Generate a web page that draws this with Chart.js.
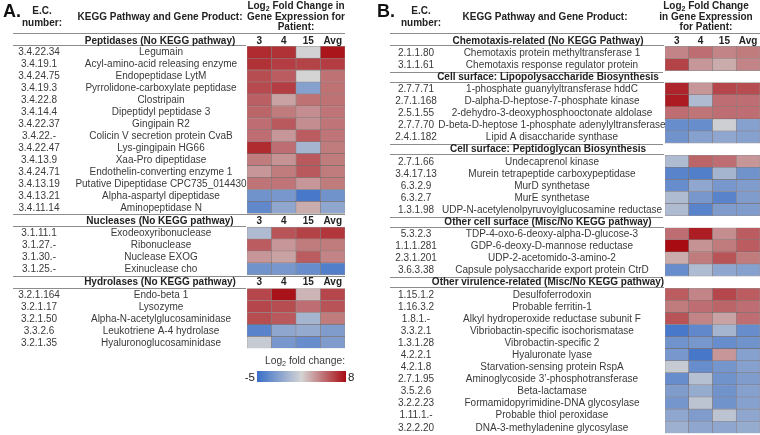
<!DOCTYPE html>
<html>
<head>
<meta charset="utf-8">
<script src="https://cdn.jsdelivr.net/npm/chart.js@4.4.1/dist/chart.umd.min.js"></script>
<style>
  html, body { margin: 0; padding: 0; background: #fff; }
  #wrap { position: relative; width: 760px; height: 435px; overflow: hidden; }
  canvas { position: absolute; top: 0; }
  #panelA { left: 0; }
  #panelB { left: 360px; }
</style>
</head>
<body>
<div id="wrap">
  <canvas id="panelA" width="360" height="435"></canvas>
  <canvas id="panelB" width="400" height="435"></canvas>
</div>
<script>
// columns of the heat map
const patients = ['3', '4', '15', 'Avg'];

// colour scale of the legend
const scaleMin = -5;
const scaleMid = 1.5;
const scaleMax = 8;

// panel A
const sectionTitlesA = [
    'Peptidases (No KEGG pathway)',
    'Nucleases (No KEGG pathway)',
    'Hydrolases (No KEGG pathway)'
];
const sectionSizesA = [14, 4, 5];
const ecNumbersA = [
    '3.4.22.34', '3.4.19.1', '3.4.24.75', '3.4.19.3', '3.4.22.8', '3.4.14.4', '3.4.22.37',
    '3.4.22.-', '3.4.22.47', '3.4.13.9', '3.4.24.71', '3.4.13.19', '3.4.13.21', '3.4.11.14',
    '3.1.11.1', '3.1.27.-', '3.1.30.-', '3.1.25.-',
    '3.2.1.164', '3.2.1.17', '3.2.1.50', '3.3.2.6', '3.2.1.35'
];
const geneProductsA = [
    'Legumain', 'Acyl-amino-acid releasing enzyme', 'Endopeptidase LytM',
    'Pyrrolidone-carboxylate peptidase', 'Clostripain', 'Dipeptidyl peptidase 3', 'Gingipain R2',
    'Colicin V secretion protein CvaB', 'Lys-gingipain HG66', 'Xaa-Pro dipeptidase',
    'Endothelin-converting enzyme 1', 'Putative Dipeptidase CPC735_014430',
    'Alpha-aspartyl dipeptidase', 'Aminopeptidase N',
    'Exodeoxyribonuclease', 'Ribonuclease', 'Nuclease EXOG', 'Exinuclease cho',
    'Endo-beta 1', 'Lysozyme', 'Alpha-N-acetylglucosaminidase', 'Leukotriene A-4 hydrolase',
    'Hyaluronoglucosaminidase'
];
// log2 fold change for patients 3, 4, 15 and Avg
const foldChangeA = [
    [7.0, 6.8, 1.4, 7.7],
    [6.8, 6.4, 6.2, 6.4],
    [5.9, 5.4, 1.5, 4.7],
    [6.0, 6.4, -1.8, 4.7],
    [5.3, 3.1, 4.7, 4.7],
    [5.1, 4.4, 3.8, 4.6],
    [4.8, 5.5, 3.8, 4.6],
    [4.8, 3.5, 5.4, 4.6],
    [7.0, 4.8, -0.5, 4.4],
    [4.4, 3.6, 5.5, 4.4],
    [3.5, 4.4, 5.5, 4.4],
    [4.6, 4.6, 3.5, 4.4],
    [-2.7, -2.4, -4.4, -2.7],
    [-3.4, -1.4, 2.8, -1.4],
    [-0.1, 5.7, 6.2, 6.6],
    [5.4, 3.5, 4.4, 4.4],
    [3.5, 3.1, 5.4, 4.1],
    [-2.7, -2.4, -3.1, -4.0],
    [6.1, 7.8, 2.5, 6.1],
    [6.1, 5.9, 4.8, 5.7],
    [5.9, 5.5, -0.5, 4.4],
    [-3.7, -1.4, -1.2, -2.1],
    [0.9, -2.4, -3.1, -2.1]
];

// panel B
const sectionTitlesB = [
    'Chemotaxis-related (No KEGG Pathway)',
    'Cell surface: Lipopolysaccharide Biosynthesis',
    'Cell surface: Peptidoglycan Biosynthesis',
    'Other cell surface (Misc/No KEGG pathway)',
    'Other virulence-related (Misc/No KEGG pathway)'
];
const sectionSizesB = [2, 5, 5, 4, 12];
const ecNumbersB = [
    '2.1.1.80', '3.1.1.61',
    '2.7.7.71', '2.7.1.168', '2.5.1.55', '2.7.7.70', '2.4.1.182',
    '2.7.1.66', '3.4.17.13', '6.3.2.9', '6.3.2.7', '1.3.1.98',
    '5.3.2.3', '1.1.1.281', '2.3.1.201', '3.6.3.38',
    '1.15.1.2', '1.16.3.2', '1.8.1.-', '3.3.2.1', '1.3.1.28', '4.2.2.1', '4.2.1.8',
    '2.7.1.95', '3.5.2.6', '3.2.2.23', '1.11.1.-', '3.2.2.20'
];
const geneProductsB = [
    'Chemotaxis protein methyltransferase 1', 'Chemotaxis response regulator protein',
    '1-phosphate guanylyltransferase hddC', 'D-alpha-D-heptose-7-phosphate kinase',
    '2-dehydro-3-deoxyphosphooctonate aldolase', 'D-beta-D-heptose 1-phosphate adenylyltransferase',
    'Lipid A disaccharide synthase',
    'Undecaprenol kinase', 'Murein tetrapeptide carboxypeptidase', 'MurD synthetase',
    'MurE synthetase', 'UDP-N-acetylenolpyruvoylglucosamine reductase',
    'TDP-4-oxo-6-deoxy-alpha-D-glucose-3', 'GDP-6-deoxy-D-mannose reductase',
    'UDP-2-acetomido-3-amino-2', 'Capsule polysaccharide export protein CtrD',
    'Desulfoferrodoxin', 'Probable ferritin-1', 'Alkyl hydroperoxide reductase subunit F',
    'Vibriobactin-specific isochorismatase', 'Vibrobactin-specific 2', 'Hyaluronate lyase',
    'Starvation-sensing protein RspA', 'Aminoglycoside 3\u2019-phosphotransferase', 'Beta-lactamase',
    'Formamidopyrimidine-DNA glycosylase', 'Probable thiol peroxidase',
    'DNA-3-methyladenine glycosylase'
];
const foldChangeB = [
    [4.1, 4.8, 4.1, 4.4],
    [6.2, 3.5, 2.8, 4.1],
    [7.2, 3.5, 6.1, 5.9],
    [7.5, -0.1, 4.8, 4.8],
    [4.8, 4.6, 4.8, 4.8],
    [-3.1, -3.1, 1.2, -1.8],
    [-2.7, -1.8, -1.4, -1.8],
    [-0.1, 5.1, 4.8, 3.5],
    [-3.7, -4.0, -0.5, -2.7],
    [-3.1, -1.4, -2.4, -2.1],
    [-0.1, -2.4, -3.7, -2.1],
    [-0.1, -3.7, -2.1, -2.1],
    [4.8, 7.4, 3.8, 5.4],
    [8.0, 3.6, 4.4, 5.4],
    [2.8, 4.4, 5.7, 4.4],
    [-3.1, -0.1, -1.4, -1.8],
    [5.4, 4.1, 6.1, 5.4],
    [4.4, 4.8, 5.1, 4.8],
    [5.7, 4.1, 3.1, 4.8],
    [-4.4, -3.4, -0.5, -3.1],
    [-2.7, -2.4, -3.1, -2.7],
    [-2.4, -4.5, 3.5, -1.8],
    [0.9, -3.1, -2.5, -1.8],
    [-3.1, 0.2, -2.7, -2.1],
    [-2.1, -1.1, -2.7, -1.8],
    [-2.5, 0.5, -2.7, -1.8],
    [-1.4, -2.1, 0.5, -1.4],
    [-0.8, -1.4, -1.4, -1.1]
];

const BLUE = [58, 111, 200];
const GREY = [212, 212, 212];
const RED = [168, 12, 18];
const FONT = '"Liberation Sans", Arial, sans-serif';
const TEXT_DARK = '#222';
const TEXT = '#3a3a3a';
const RULE = '#8c8c8c';

function mix(a, b, t) {
    t = Math.max(0, Math.min(1, t));
    return 'rgb(' + a.map((v, k) => Math.round(v + (b[k] - v) * t)).join(',') + ')';
}

function colorFor(v) {
    if (v <= scaleMid) return mix(BLUE, GREY, (v - scaleMin) / (scaleMid - scaleMin));
    return mix(GREY, RED, (v - scaleMid) / (scaleMax - scaleMid));
}

// text with a subscript 2 (Log₂)
function drawText(ctx, str, cx, cy, size, bold) {
    const parts = str.split('\u2082');
    const weight = bold ? 'bold ' : '';
    const big = weight + size + 'px ' + FONT;
    const small = weight + (size * 0.7).toFixed(1) + 'px ' + FONT;
    ctx.textBaseline = 'middle';
    if (parts.length === 1) {
        ctx.font = big;
        ctx.textAlign = 'center';
        ctx.fillText(str, cx, cy);
        return;
    }
    ctx.font = big;
    const w0 = ctx.measureText(parts[0]).width;
    const w2 = ctx.measureText(parts[1]).width;
    ctx.font = small;
    const w1 = ctx.measureText('2').width;
    let x = cx - (w0 + w1 + w2) / 2;
    ctx.textAlign = 'left';
    ctx.font = big;
    ctx.fillText(parts[0], x, cy);
    ctx.font = small;
    ctx.fillText('2', x + w0, cy + size * 0.3);
    ctx.font = big;
    ctx.fillText(parts[1], x + w0 + w1, cy);
}

function hline(ctx, x1, x2, y) {
    ctx.strokeStyle = RULE;
    ctx.lineWidth = 1;
    ctx.beginPath();
    ctx.moveTo(x1, Math.round(y) + 0.5);
    ctx.lineTo(x2, Math.round(y) + 0.5);
    ctx.stroke();
}

function makePanel(canvasId, g, titles, sizes, ecs, genes, values) {
    // rows of the table: section headers and gene rows
    const rows = [];
    let pos = 0;
    let idx = 0;
    sizes.forEach((n, s) => {
        const hh = g.headerH[s];
        rows.push({ kind: 'header', s: s, top: pos, bottom: pos + hh });
        pos += hh;
        for (let k = 0; k < n; k++) {
            rows.push({ kind: 'gene', i: idx, top: pos, bottom: pos + 1 });
            idx++;
            pos += 1;
        }
    });
    const total = pos;

    const cells = [];
    rows.filter(r => r.kind === 'gene').forEach(r => {
        patients.forEach((p, c) => {
            cells.push({ x: c + 0.5, y: [r.top, r.bottom], v: values[r.i][c] });
        });
    });

    const X = px => px - g.offset;

    const tablePlugin = {
        id: 'tableText',
        afterDraw(chart) {
            const ctx = chart.ctx;
            const ys = chart.scales.y;
            const xs = chart.scales.x;
            const area = chart.chartArea;
            ctx.save();
            ctx.fillStyle = '#111';
            ctx.font = 'bold 18px ' + FONT;
            ctx.textAlign = 'left';
            ctx.textBaseline = 'middle';
            ctx.fillText(g.letter, X(g.letterX), 12);

            ctx.fillStyle = TEXT_DARK;
            drawText(ctx, 'E.C.', X(g.ecHeadX), 11.5, 10, true);
            drawText(ctx, 'number:', X(g.ecHeadX), 23.5, 10, true);
            drawText(ctx, 'KEGG Pathway and Gene Product:', X(g.titleX), 17, 10, true);
            g.logLines.forEach((t, k) => {
                drawText(ctx, t, X(g.logX), 6.5 + k * 10.5, 10, true);
            });
            hline(ctx, X(g.ruleLeft), X(g.ruleRight), area.top - 1);

            rows.forEach(r => {
                const y1 = ys.getPixelForValue(r.top);
                const y2 = ys.getPixelForValue(r.bottom);
                const yc = (y1 + y2) / 2 + 0.5;
                if (r.kind === 'header') {
                    if (r.s > 0) hline(ctx, X(g.ruleLeft), X(g.sepRight), y1 + 1);
                    hline(ctx, X(g.ruleLeft), area.left - 1, y2 - 1);
                    ctx.fillStyle = TEXT_DARK;
                    drawText(ctx, titles[r.s], X(g.sectionX), yc, 10, true);
                    if (r.s === 0 || g.colLabelsAll) {
                        patients.forEach((p, c) => {
                            drawText(ctx, p, xs.getPixelForValue(c + 0.5), yc, 10, true);
                        });
                    }
                } else {
                    ctx.fillStyle = TEXT;
                    drawText(ctx, ecs[r.i], X(g.ecX), yc, 10, false);
                    drawText(ctx, genes[r.i], X(g.geneX), yc, 10, false);
                }
            });

            if (g.colorbar) {
                const cb = g.colorbar;
                ctx.fillStyle = TEXT;
                drawText(ctx, 'Log\u2082 fold change:', X(cb.titleX), cb.titleY, 10.3, false);
                const x1 = X(cb.left), x2 = X(cb.right);
                const grad = ctx.createLinearGradient(x1, 0, x2, 0);
                grad.addColorStop(0, mix(BLUE, BLUE, 0));
                grad.addColorStop((scaleMid - scaleMin) / (scaleMax - scaleMin), mix(GREY, GREY, 0));
                grad.addColorStop(1, mix(RED, RED, 0));
                ctx.fillStyle = grad;
                ctx.fillRect(x1, cb.top, x2 - x1, cb.height);
                ctx.fillStyle = TEXT_DARK;
                ctx.font = '11.5px ' + FONT;
                ctx.textBaseline = 'middle';
                ctx.textAlign = 'right';
                ctx.fillText(String(scaleMin), x1 - 2, cb.top + cb.height / 2 + 1);
                ctx.textAlign = 'left';
                ctx.fillText(String(scaleMax), x2 + 2, cb.top + cb.height / 2 + 1);
            }
            ctx.restore();
        }
    };

    return new Chart(document.getElementById(canvasId), {
        type: 'bar',
        data: {
            datasets: [{
                data: cells,
                backgroundColor: ctx => (ctx.raw ? colorFor(ctx.raw.v) : '#ccc'),
                borderColor: 'rgba(70, 55, 55, 0.55)',
                borderWidth: 0.6,
                borderSkipped: false,
                categoryPercentage: 1,
                barPercentage: 1
            }]
        },
        options: {
            responsive: false,
            animation: false,
            devicePixelRatio: 1,
            layout: {
                padding: {
                    left: X(g.cellLeft),
                    right: g.width - X(g.cellRight),
                    top: g.cellTop,
                    bottom: 435 - g.cellBottom
                }
            },
            plugins: {
                legend: { display: false },
                tooltip: { enabled: false }
            },
            scales: {
                x: { type: 'linear', min: 0, max: patients.length, offset: false, display: false, ticks: { stepSize: 1 } },
                y: { type: 'linear', min: 0, max: total, reverse: true, display: false, ticks: { stepSize: 1 } }
            }
        },
        plugins: [tablePlugin]
    });
}

makePanel('panelA', {
    offset: 0, width: 360, letter: 'A.', letterX: 3,
    ecHeadX: 42, titleX: 160, logX: 296,
    logLines: ['Log\u2082 Fold Change in', 'Gene Expression for', 'Patient:'],
    ruleLeft: 13, ruleRight: 345, sepRight: 345,
    sectionX: 160, ecX: 39, geneX: 161, colLabelsAll: true,
    headerH: [1, 1.15, 1.15],
    cellLeft: 247, cellRight: 345, cellTop: 34.3, cellBottom: 348.3,
    colorbar: { titleX: 305, titleY: 361, left: 257, right: 346, top: 371, height: 11 }
}, sectionTitlesA, sectionSizesA, ecNumbersA, geneProductsA, foldChangeA);

makePanel('panelB', {
    offset: 360, width: 400, letter: 'B.', letterX: 377,
    ecHeadX: 421, titleX: 545, logX: 706,
    logLines: ['Log\u2082 Fold Change', 'in Gene Expression', 'for Patient:'],
    ruleLeft: 390, ruleRight: 760, sepRight: 663,
    sectionX: 548, ecX: 416, geneX: 552, colLabelsAll: false,
    headerH: [1, 1, 1, 1, 1],
    cellLeft: 665, cellRight: 760, cellTop: 34.3, cellBottom: 433.3,
    colorbar: null
}, sectionTitlesB, sectionSizesB, ecNumbersB, geneProductsB, foldChangeB);
</script>
</body>
</html>
